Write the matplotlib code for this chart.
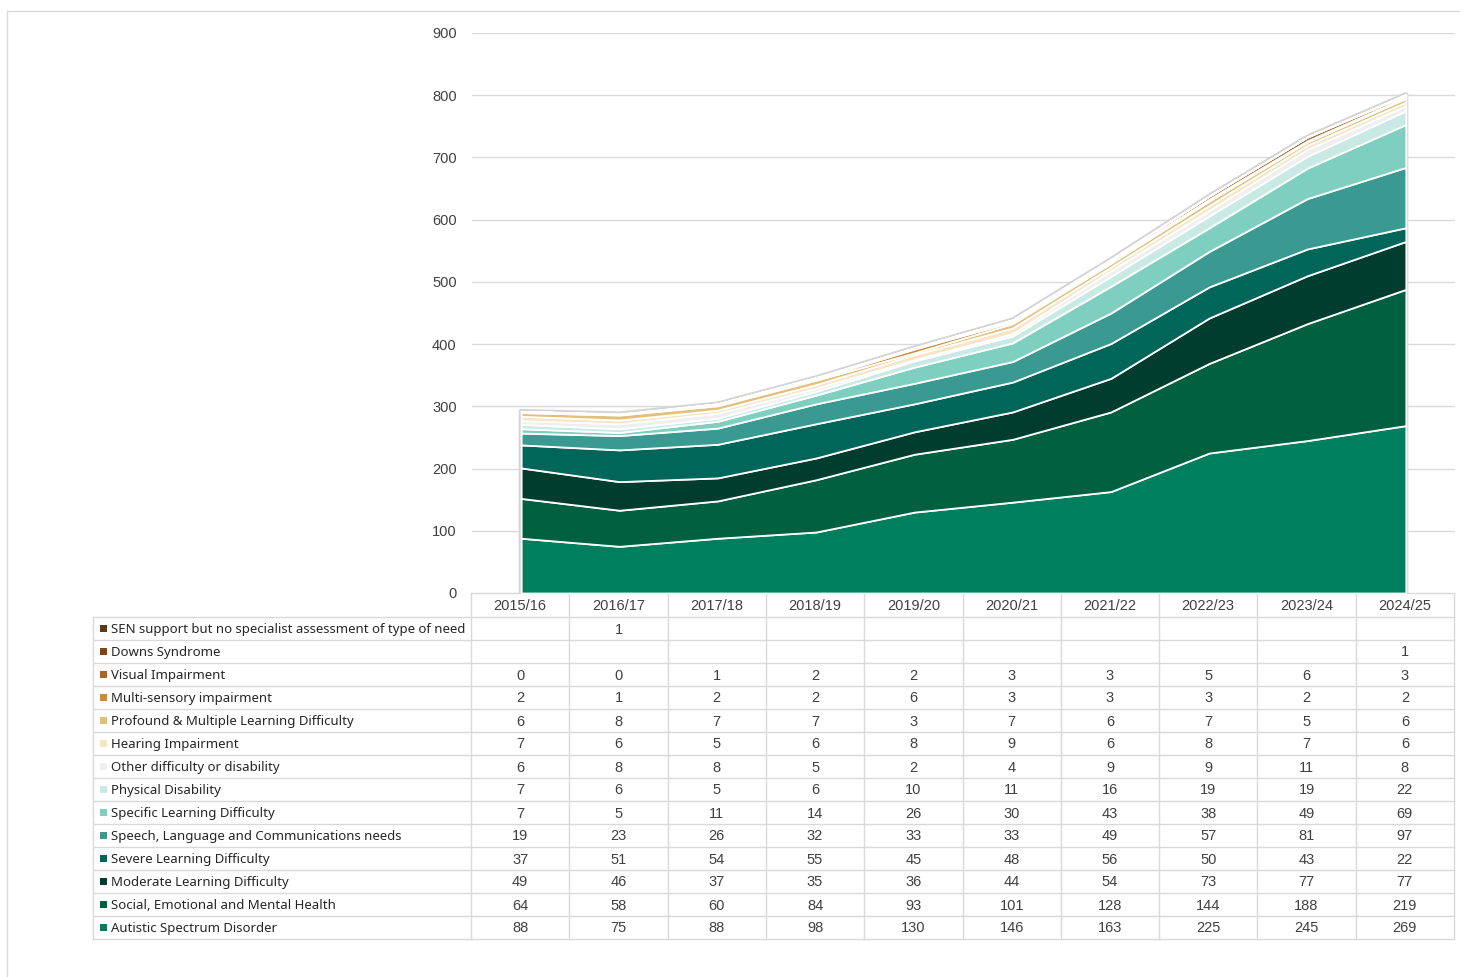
import numpy as np
import matplotlib
matplotlib.use("Agg")
import matplotlib.pyplot as plt
from matplotlib.patches import Rectangle

# Pupils by primary type of need, per academic year
years = ["2015/16", "2016/17", "2017/18", "2018/19", "2019/20",
         "2020/21", "2021/22", "2022/23", "2023/24", "2024/25"]

# series listed bottom of the stack first
needs = [
    "Autistic Spectrum Disorder",
    "Social, Emotional and Mental Health",
    "Moderate Learning Difficulty",
    "Severe Learning Difficulty",
    "Speech, Language and Communications needs",
    "Specific Learning Difficulty",
    "Physical Disability",
    "Other difficulty or disability",
    "Hearing Impairment",
    "Profound & Multiple Learning Difficulty",
    "Multi-sensory impairment",
    "Visual Impairment",
    "Downs Syndrome",
    "SEN support but no specialist assessment of type of need",
]

asd = [88, 75, 88, 98, 130, 146, 163, 225, 245, 269]
semh = [64, 58, 60, 84, 93, 101, 128, 144, 188, 219]
mld = [49, 46, 37, 35, 36, 44, 54, 73, 77, 77]
sld = [37, 51, 54, 55, 45, 48, 56, 50, 43, 22]
slcn = [19, 23, 26, 32, 33, 33, 49, 57, 81, 97]
spld = [7, 5, 11, 14, 26, 30, 43, 38, 49, 69]
pd = [7, 6, 5, 6, 10, 11, 16, 19, 19, 22]
oth = [6, 8, 8, 5, 2, 4, 9, 9, 11, 8]
hi = [7, 6, 5, 6, 8, 9, 6, 8, 7, 6]
pmld = [6, 8, 7, 7, 3, 7, 6, 7, 5, 6]
msi = [2, 1, 2, 2, 6, 3, 3, 3, 2, 2]
vi = [0, 0, 1, 2, 2, 3, 3, 5, 6, 3]
downs = [None, None, None, None, None, None, None, None, None, 1]
nsa = [None, 1, None, None, None, None, None, None, None, None]

series = [asd, semh, mld, sld, slcn, spld, pd, oth, hi, pmld, msi, vi, downs, nsa]

colors = ["#007F5E", "#00603F", "#003D2E", "#00665A", "#3A9990", "#7FCFC0",
          "#C9EAE4", "#EFEFEF", "#F5E6C6", "#E2C07A", "#CC8A3A", "#AE6524",
          "#7F4512", "#5C3A14"]

W, H = 1460, 977
fig = plt.figure(figsize=(W / 100, H / 100), dpi=100)

grid_col = "#D9D9D9"
text_col = "#404040"
num_font = "Liberation Sans"
lab_font = "Noto Sans"

# pixel helpers for the plot area
x0_px, x1_px = 472, 1455
y0_px, y1_px = 593, 33
ax = fig.add_axes([x0_px / W, 1 - y0_px / H, (x1_px - x0_px) / W, (y0_px - y1_px) / H])

x = np.arange(len(years))
vals = np.array([[0 if v is None else v for v in s] for s in series], dtype=float)

# soft grey outline round the whole stack
tot = vals.sum(axis=0)
ax.fill_between(x, 0, tot, facecolor="none", edgecolor="#D4D4D4", linewidth=3.5, zorder=2)
ax.stackplot(x, vals, colors=colors, edgecolor="white", linewidth=1.3, zorder=3)

ax.set_xlim(-0.5, len(years) - 0.5)
ax.set_ylim(0, 900)
ax.set_yticks(range(0, 901, 100))
ax.set_xticks([])
ax.yaxis.grid(True, color=grid_col, linewidth=1)
ax.set_axisbelow(True)
for sp in ax.spines.values():
    sp.set_visible(False)
ax.tick_params(axis="y", length=0, pad=11, labelsize=10.5, labelcolor=text_col)
for t in ax.get_yticklabels():
    t.set_fontfamily(num_font)

# overlay in pixel coordinates for the data table and frame
ov = fig.add_axes([0, 0, 1, 1], zorder=-1)
ov.set_xlim(0, W)
ov.set_ylim(H, 0)
ov.axis("off")

# outer chart frame
ov.plot([7, 7, W], [H, 11, 11], color=grid_col, linewidth=1)

col_w = (x1_px - x0_px) / len(years)
col_edges = [x0_px - 1 + k * col_w for k in range(len(years) + 1)]
head_top, head_bot = 593, 617
row_h = 23.0
n_rows = len(needs)
tab_bot = head_bot + n_rows * row_h
lab_left = 93

# header row
ov.plot([col_edges[0], col_edges[-1]], [head_top, head_top], color=grid_col, lw=1)
for cx in col_edges:
    ov.plot([cx, cx], [head_top, tab_bot], color=grid_col, lw=1)
ov.plot([lab_left, lab_left], [head_bot, tab_bot], color=grid_col, lw=1)
for i, yr in enumerate(years):
    ov.text((col_edges[i] + col_edges[i + 1]) / 2, (head_top + head_bot) / 2 + 1, yr,
            ha="center", va="center", fontsize=10.5, family=num_font, color=text_col)

# body rows, top row is the last series
for r in range(n_rows + 1):
    yy = head_bot + r * row_h
    ov.plot([lab_left, col_edges[-1]], [yy, yy], color=grid_col, lw=1)

for r in range(n_rows):
    idx = n_rows - 1 - r
    yc = head_bot + (r + 0.5) * row_h
    ov.add_patch(Rectangle((100, yc - 3.5), 7, 7, facecolor=colors[idx], edgecolor="none"))
    ov.text(111, yc + 1, needs[idx], ha="left", va="center", fontsize=9.5,
            family=lab_font, color="#262626")
    for i, v in enumerate(series[idx]):
        if v is None:
            continue
        ov.text((col_edges[i] + col_edges[i + 1]) / 2, yc + 1, str(v), ha="center",
                va="center", fontsize=10.5, family=num_font, color=text_col)

fig.savefig("out.png", dpi=100, facecolor="white")
